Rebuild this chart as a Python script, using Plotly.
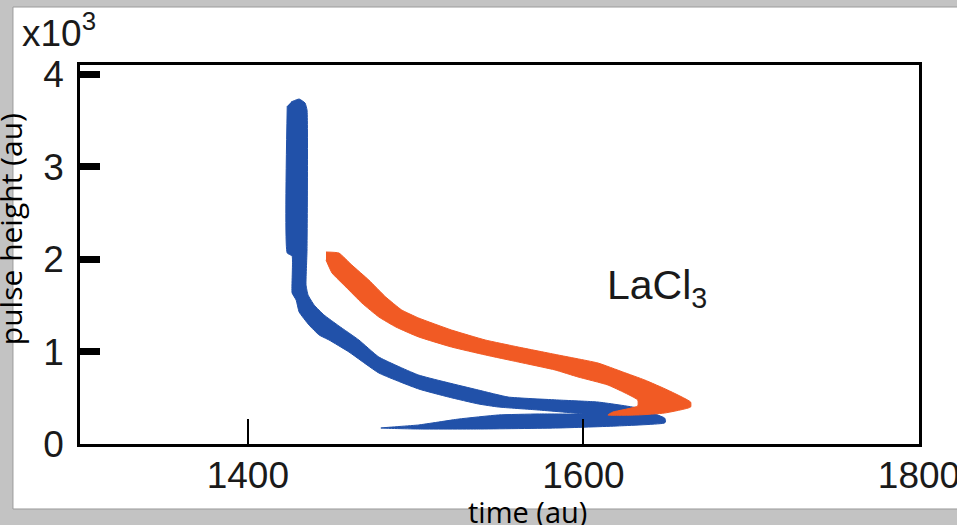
import plotly.graph_objects as go

# ---- data (time in au, pulse height in units of 10^3 au) ----
blue_time = [1425.8, 1430.6, 1434.1, 1435.3, 1435.3, 1434.7, 1435.9, 1439.5, 1445.4, 1454.3,
             1466.2, 1478.1, 1501.8, 1537.4, 1555.2, 1584.9, 1608.7, 1632.4, 1648.4, 1649.0,
             1648.4, 1620.5, 1584.9, 1537.4, 1501.8, 1479.3, 1501.8, 1525.6, 1549.3, 1573.0,
             1599.8, 1573.0, 1549.3, 1537.4, 1519.6, 1501.8, 1478.1, 1460.3, 1448.4, 1442.5,
             1436.5, 1430.6, 1428.8, 1426.4, 1426.4, 1423.5, 1423.5]
blue_height = [3.700, 3.732, 3.689, 3.613, 2.099, 1.720, 1.612, 1.504, 1.396, 1.277,
               1.125, 0.941, 0.746, 0.584, 0.508, 0.476, 0.454, 0.389, 0.281, 0.249,
               0.227, 0.195, 0.173, 0.162, 0.162, 0.173, 0.206, 0.270, 0.314, 0.325,
               0.325, 0.368, 0.400, 0.433, 0.508, 0.595, 0.768, 0.995, 1.125, 1.179,
               1.287, 1.428, 1.558, 1.634, 2.034, 2.066, 3.656]

orange_time = [1446.6, 1454.3, 1462.0, 1472.1, 1482.2, 1491.7, 1501.8, 1521.4, 1541.6, 1561.2,
               1584.9, 1608.7, 1623.5, 1636.6, 1650.2, 1663.9, 1663.9, 1648.4, 1632.4, 1614.6,
               1617.6, 1632.4, 1632.4, 1614.6, 1596.8, 1583.1, 1561.2, 1541.6, 1521.4, 1501.8,
               1488.2, 1478.1, 1468.0, 1458.5, 1450.2, 1446.6]
orange_height = [2.077, 2.066, 1.936, 1.774, 1.590, 1.450, 1.363, 1.233, 1.125, 1.049,
                 0.963, 0.876, 0.779, 0.692, 0.584, 0.454, 0.400, 0.335, 0.314, 0.314,
                 0.346, 0.411, 0.476, 0.638, 0.725, 0.801, 0.887, 0.963, 1.049, 1.158,
                 1.266, 1.374, 1.525, 1.698, 1.850, 1.991]

x_ticks = [1400, 1600, 1800]
y_ticks = [0, 1, 2, 3, 4]
y_major_marks = [1, 2, 3, 4]

BLUE = "#2151a9"
ORANGE = "#f15a24"
TICKFONT = dict(family="Liberation Sans, Arial, sans-serif", size=37, color="#1a1a1a")

fig = go.Figure()
fig.add_trace(go.Scatter(x=blue_time, y=blue_height, fill="toself", fillcolor=BLUE,
                         mode="lines", line=dict(color=BLUE, width=1, shape="spline", smoothing=0.4),
                         hoverinfo="skip", showlegend=False, yaxis="y"))
fig.add_trace(go.Scatter(x=orange_time, y=orange_height, fill="toself", fillcolor=ORANGE,
                         mode="lines", line=dict(color=ORANGE, width=1, shape="spline", smoothing=0.4),
                         hoverinfo="skip", showlegend=False, yaxis="y2"))

yr = [0, 4.1]
fig.update_layout(
    width=957, height=525,
    margin=dict(l=80, r=38, t=65, b=81, autoexpand=False),
    paper_bgcolor="#c3c3c3",
    plot_bgcolor="white",
    xaxis=dict(range=[1300, 1800], tickvals=x_ticks, ticktext=[str(v) for v in x_ticks],
               ticks="inside", ticklen=25, tickwidth=2, tickcolor="black",
               showline=True, linecolor="black", linewidth=2.5, mirror=True, automargin=False,
               ticklabeloverflow="allow",
               showgrid=False, zeroline=False, tickfont=TICKFONT, ticklabelstandoff=-3),
    yaxis=dict(range=yr, tickvals=y_ticks, ticktext=[str(v) for v in y_ticks],
               ticks="", showline=True, linecolor="black", linewidth=2.5, mirror=True,
               automargin=False, ticklabeloverflow="allow",
               showgrid=False, zeroline=False, tickfont=TICKFONT, ticklabelstandoff=6),
    yaxis2=dict(range=yr, overlaying="y", side="left", tickvals=y_major_marks,
                ticks="inside", ticklen=20, tickwidth=7, tickcolor="black", automargin=False,
                showticklabels=False, showline=False, showgrid=False, zeroline=False),
    shapes=[
        dict(type="rect", xref="paper", yref="paper", x0=-0.0799, x1=1.06, y0=-0.1715, y1=1.153,
             fillcolor="white", line=dict(color="#9a9a9a", width=1), layer="below"),
    ],
    annotations=[
        dict(text="x10<sup>3</sup>", xref="paper", yref="paper", x=-0.071, y=1.092,
             xanchor="left", yanchor="middle", showarrow=False,
             font=dict(family="Liberation Sans, Arial, sans-serif", size=37, color="#1a1a1a")),
        dict(text="LaCl<sub>3</sub>", xref="x", yref="y", x=1613.0, y=1.69,
             xanchor="left", yanchor="middle", showarrow=False,
             font=dict(family="Liberation Sans, Arial, sans-serif", size=41, color="#1a1a1a")),
        dict(text="pulse height (au)", xref="paper", yref="paper", x=-0.0834, y=0.567,
             xanchor="center", yanchor="middle", textangle=-90, showarrow=False,
             font=dict(family="Open Sans, sans-serif", size=30, color="black")),
        dict(text="time (au)", xref="paper", yref="paper", x=0.5328, y=-0.177,
             xanchor="center", yanchor="middle", showarrow=False,
             font=dict(family="Open Sans, sans-serif", size=29, color="black")),
    ],
)

fig.write_html("out.html", config={"displayModeBar": False},
               post_script="document.body.style.margin='0px';")
